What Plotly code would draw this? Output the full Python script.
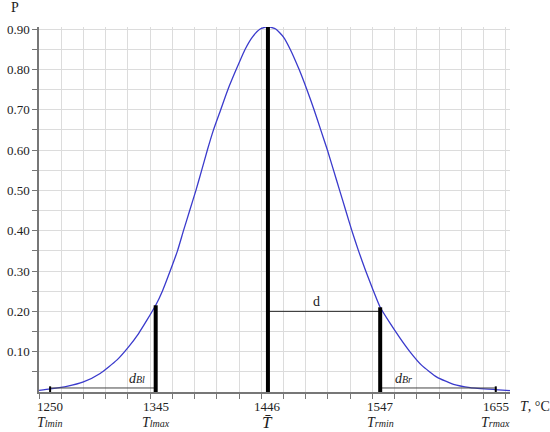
import plotly.graph_objects as go

# Curve
T_curve = [1240, 1250, 1265, 1280, 1295, 1310, 1320.6, 1329.6, 1337.1, 1345, 1351, 1358,
           1364.6, 1370, 1375.6, 1381.2, 1386.4, 1391.5, 1397, 1403.5, 1410, 1417.5,
           1425.5, 1432, 1439, 1446, 1453, 1460, 1466, 1474, 1481, 1487.5, 1493.5, 1499.5,
           1505, 1510.5, 1516, 1521.5, 1527.5, 1534, 1541, 1547, 1556, 1565, 1574, 1584.4,
           1598, 1613, 1628, 1650, 1664]
P_curve = [0.004, 0.0075, 0.014, 0.025, 0.046, 0.079, 0.112, 0.145, 0.178, 0.215, 0.25, 0.30,
           0.35, 0.40, 0.45, 0.50, 0.55, 0.60, 0.65, 0.70, 0.75, 0.80,
           0.85, 0.880, 0.900, 0.906, 0.900, 0.880, 0.85, 0.80, 0.75, 0.70, 0.65, 0.60,
           0.55, 0.50, 0.45, 0.40, 0.35, 0.30, 0.25, 0.21, 0.170, 0.133, 0.099, 0.066,
           0.037, 0.019, 0.011, 0.006, 0.0035]

# Marker lines
T_marks = [1250, 1345, 1446, 1547, 1651]
mark_labels = ["1250", "1345", "1446", "1547", "1655"]
mark_names = ["<i>T<span style='font-size:10px'>lmin</span></i>",
              "<i>T<span style='font-size:10px'>lmax</span></i>",
              "<i>T̄</i>",
              "<i>T<span style='font-size:10px'>rmin</span></i>",
              "<i>T<span style='font-size:10px'>rmax</span></i>"]
mark_top = [0.014, 0.215, 0.906, 0.21, 0.014]
mark_bottom = [-0.013, -0.009, -0.009, -0.009, -0.013]
mark_width = [2, 4, 4, 4, 2]

# Distance segments
d_level = 0.20
dB_level = 0.010

y_ticks = [round(0.05 * i, 2) for i in range(1, 19)]
y_text = [f"{v:.2f}" if i % 2 == 1 else "" for i, v in enumerate(y_ticks)]

FONT = "Liberation Serif, DejaVu Serif, serif"
fig = go.Figure()

fig.add_trace(go.Scatter(x=T_curve, y=P_curve, mode="lines",
                         line=dict(color="#3a3acc", width=1.3, shape="spline", smoothing=0.5),
                         hoverinfo="skip"))

# horizontal segments
fig.add_trace(go.Scatter(x=[T_marks[2], T_marks[3]], y=[d_level, d_level], mode="lines",
                         line=dict(color="#222", width=1), hoverinfo="skip"))
fig.add_trace(go.Scatter(x=[T_marks[0], T_marks[1]], y=[dB_level, dB_level], mode="lines",
                         line=dict(color="#444", width=1), hoverinfo="skip"))
fig.add_trace(go.Scatter(x=[T_marks[3], T_marks[4]], y=[dB_level, dB_level], mode="lines",
                         line=dict(color="#444", width=1), hoverinfo="skip"))

for t, top, bot, w in zip(T_marks, mark_top, mark_bottom, mark_width):
    fig.add_trace(go.Scatter(x=[t, t], y=[bot, top], mode="lines", cliponaxis=False,
                             line=dict(color="black", width=w), hoverinfo="skip"))

ann = []
for t, lab, nm in zip(T_marks, mark_labels, mark_names):
    ann.append(dict(x=t, y=0, xref="x", yref="y", text=lab, showarrow=False,
                    yanchor="top", yshift=-5, font=dict(size=13, color="#222", family=FONT)))
    big = nm == "<i>T̄</i>"
    ann.append(dict(x=t, y=0, xref="x", yref="y", text=nm, showarrow=False,
                    yanchor="top", yshift=-21 if not big else -19,
                    font=dict(size=14 if not big else 17, color="#222", family=FONT)))

ann.append(dict(x=1490, y=d_level, text="d", showarrow=False, yanchor="bottom", yshift=0,
                font=dict(size=14, color="#222", family=FONT)))
ann.append(dict(x=1328, y=dB_level, text="<i>d<span style='font-size:10px'>Bl</span></i>",
                showarrow=False, yanchor="bottom", yshift=0,
                font=dict(size=14, color="#222", family=FONT)))
ann.append(dict(x=1568, y=dB_level, text="<i>d<span style='font-size:10px'>Br</span></i>",
                showarrow=False, yanchor="bottom", yshift=0,
                font=dict(size=14, color="#222", family=FONT)))
ann.append(dict(x=1, xref="paper", y=0, yref="y", text="<i>T</i>, °C", showarrow=False,
                xanchor="left", yanchor="top", xshift=8, yshift=-5,
                font=dict(size=14, color="#222", family=FONT)))
ann.append(dict(x=0, xref="paper", y=1, yref="paper", text="P", showarrow=False,
                xanchor="center", yanchor="bottom", xshift=-24, yshift=10,
                font=dict(size=14, color="#222", family=FONT)))

fig.update_layout(
    width=550, height=432,
    margin=dict(l=39, r=40, t=27, b=40, autoexpand=False),
    paper_bgcolor="white", plot_bgcolor="white",
    showlegend=False,
    annotations=ann,
    font=dict(family=FONT, size=13, color="#222"),
)
fig.update_xaxes(range=[1240, 1663.8], tickmode="linear", tick0=1240, dtick=20,
                 showticklabels=False, ticks="outside", ticklen=5, tickcolor="#777",
                 showgrid=True, gridcolor="#dcdcdc", gridwidth=1, automargin=False,
                 showline=True, linecolor="#777", linewidth=1.5, zeroline=False)
fig.update_yaxes(range=[0, 0.905], tickmode="array", tickvals=y_ticks, ticktext=y_text,
                 ticks="outside", ticklen=5, tickcolor="#777", automargin=False,
                 showgrid=True, gridcolor="#dcdcdc", gridwidth=1,
                 showline=True, linecolor="#777", linewidth=1.5, zeroline=False,
                 tickfont=dict(size=13, family=FONT, color="#222"))

fig.write_html("out.html", config={"displayModeBar": False},
               post_script="document.body.style.margin='0';document.body.style.overflow='hidden';")
